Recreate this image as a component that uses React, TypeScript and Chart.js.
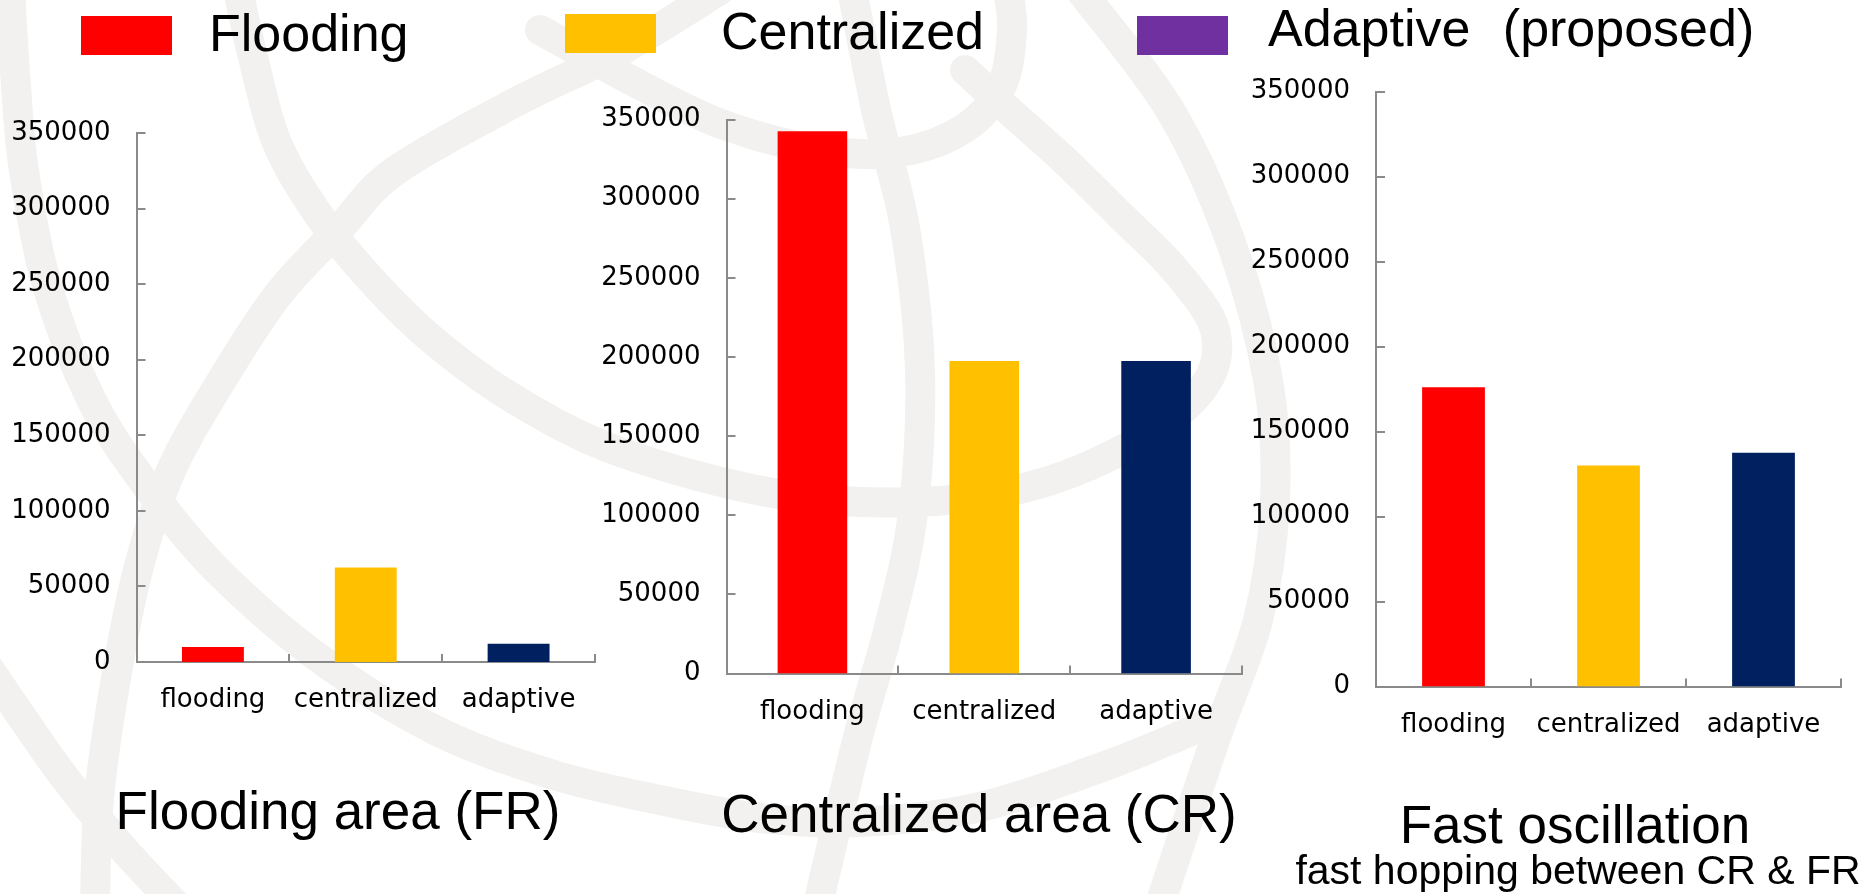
import React, { useEffect, useRef } from "react";
import { Chart, registerables } from "chart.js";

Chart.register(...registerables);

// ---- data ----
const categories = ["flooding", "centralized", "adaptive"];
const floodingAreaValues = [10000, 62500, 12000];
const centralizedAreaValues = [342500, 197500, 197500];
const fastOscillationValues = [176000, 130000, 137500];
const yMax = 350000;
const yStep = 50000;
const barColors = ["#ff0000", "#ffc000", "#002060"];
const legendLabels = ["Flooding", "Centralized", "Adaptive (proposed)"];
const legendColors = ["#ff0000", "#ffc000", "#7030a0"];
const panelTitles = ["Flooding area (FR)", "Centralized area (CR)", "Fast oscillation"];
const panelSubtitle = "fast hopping between CR & FR";

// ---- layout ----
const W = 1870;
const H = 894;
const Y_W = 130;
const X_H = 60;
const AXIS = "#8a8a8a";
const TICK_FONT = "'DejaVu Sans', Verdana, sans-serif";
const TEXT_FONT = "'Liberation Sans', Arial, sans-serif";
const WATERMARK = "#f2f1ef";

type Area = { left: number; top: number; right: number; bottom: number };
const areas: Area[] = [
  { left: 136.5, top: 133, right: 595, bottom: 662 },
  { left: 726.5, top: 119.5, right: 1242, bottom: 673.5 },
  { left: 1376, top: 91.5, right: 1841, bottom: 686.5 },
];

// decorative background watermark (globe-like arcs), not data
const watermarkCurves: number[][][] = [
  [[238, -10], [253, 57], [277, 143], [320, 217], [376, 285], [435, 342], [514, 399], [620, 452], [778, 494], [917, 502], [1035, 485], [1140, 440], [1205, 385], [1215, 330], [1175, 270], [1120, 215], [1062, 158], [1006, 108], [965, 70]],
  [[1080, -10], [1170, 110], [1230, 240], [1268, 380], [1275, 500], [1258, 620], [1215, 740], [1160, 904]],
  [[720, -10], [620, 51], [514, 103], [395, 171], [340, 228], [277, 296], [217, 388], [170, 473], [138, 570], [115, 684], [99, 798], [95, 904]],
  [[540, 30], [640, 85], [724, 125], [820, 150], [900, 152], [965, 128], [1002, 85], [1012, 30], [1008, -10]],
  [[852, -10], [877, 114], [905, 228], [920, 370], [913, 513], [889, 627], [857, 741], [818, 904]],
  [[10, -10], [16, 86], [24, 171], [47, 285], [91, 399], [146, 485], [217, 570], [316, 656], [435, 730], [554, 775], [660, 800], [760, 818], [857, 822], [976, 808], [1094, 770], [1170, 740], [1215, 720]],
  [[-10, 670], [59, 770], [119, 844], [175, 904]],
];

function smoothPath(pts: number[][]): string {
  let d = `M${pts[0][0]},${pts[0][1]}`;
  for (let i = 0; i < pts.length - 1; i++) {
    const p0 = pts[i - 1] || pts[i];
    const p1 = pts[i];
    const p2 = pts[i + 1];
    const p3 = pts[i + 2] || p2;
    const c1x = p1[0] + (p2[0] - p0[0]) / 6;
    const c1y = p1[1] + (p2[1] - p0[1]) / 6;
    const c2x = p2[0] - (p3[0] - p1[0]) / 6;
    const c2y = p2[1] - (p3[1] - p1[1]) / 6;
    d += ` C${c1x},${c1y} ${c2x},${c2y} ${p2[0]},${p2[1]}`;
  }
  return d;
}

const innerTicks = {
  id: "innerTicks",
  afterDraw(chart: any) {
    const { ctx, chartArea, scales } = chart;
    const xs = scales.x;
    const ys = scales.y;
    ctx.save();
    ctx.strokeStyle = AXIS;
    ctx.lineWidth = 2;
    ctx.beginPath();
    ys.ticks.forEach((t: any) => {
      const py = Math.round(ys.getPixelForValue(t.value));
      ctx.moveTo(chartArea.left, py);
      ctx.lineTo(chartArea.left + 9, py);
    });
    for (let i = 0; i <= categories.length; i++) {
      const px = Math.round(xs.getPixelForValue(i - 0.5));
      ctx.moveTo(px, chartArea.bottom);
      ctx.lineTo(px, chartArea.bottom - 8);
    }
    ctx.stroke();
    ctx.restore();
  },
};

function BarPanel({ values, area }: { values: number[]; area: Area }) {
  const ref = useRef<HTMLCanvasElement>(null);
  useEffect(() => {
    const chart = new Chart(ref.current as HTMLCanvasElement, {
      type: "bar",
      data: {
        labels: categories,
        datasets: [
          {
            data: values,
            backgroundColor: barColors,
            borderWidth: 0,
            barPercentage: 0.405,
            categoryPercentage: 1,
          },
        ],
      },
      options: {
        animation: false,
        responsive: false,
        devicePixelRatio: 1,
        layout: {
          padding: {
            left: area.left - Y_W,
            top: area.top,
            right: W - area.right,
            bottom: H - area.bottom - X_H,
          },
        },
        plugins: { legend: { display: false }, tooltip: { enabled: false } },
        scales: {
          x: {
            z: 1,
            grid: { display: false, drawTicks: false },
            border: { display: true, color: AXIS, width: 2 },
            ticks: {
              color: "#000",
              font: { family: TICK_FONT, size: 26 },
              padding: 23,
              maxRotation: 0,
            },
            afterFit: (s: any) => {
              s.height = X_H;
            },
          },
          y: {
            z: 1,
            min: 0,
            max: yMax,
            grid: { display: false, drawTicks: false },
            border: { display: true, color: AXIS, width: 2 },
            ticks: {
              stepSize: yStep,
              color: "#000",
              font: { family: TICK_FONT, size: 26 },
              padding: 26,
              callback: (v: any) => String(v),
            },
            afterFit: (s: any) => {
              s.width = Y_W;
            },
          },
        },
      } as any,
      plugins: [innerTicks],
    });
    return () => chart.destroy();
  }, []);
  return (
    <canvas
      ref={ref}
      width={W}
      height={H}
      style={{ position: "absolute", left: 0, top: 0 }}
    />
  );
}

const textStyle = (size: number): React.CSSProperties => ({
  position: "absolute",
  fontFamily: TEXT_FONT,
  fontSize: size,
  lineHeight: `${size}px`,
  color: "#000",
  whiteSpace: "nowrap",
});

export default function App() {
  const legendSwatches = [
    { left: 81, top: 16, text: 209, textTop: 7, ws: 0 },
    { left: 565, top: 14, text: 721, textTop: 5, ws: 0 },
    { left: 1137, top: 16, text: 1268, textTop: 2, ws: 18 },
  ];
  const titlePos = [
    { cx: 338, top: 784, size: 53 },
    { cx: 979, top: 787, size: 53 },
    { cx: 1575, top: 798, size: 53 },
  ];
  return (
    <div
      style={{
        position: "absolute",
        left: 0,
        top: 0,
        width: W,
        height: H,
        background: "#fff",
        overflow: "hidden",
      }}
    >
      <svg
        width={W}
        height={H}
        style={{ position: "absolute", left: 0, top: 0 }}
      >
        {watermarkCurves.map((pts, i) => (
          <path
            key={i}
            d={smoothPath(pts)}
            fill="none"
            stroke={WATERMARK}
            strokeWidth={30}
            strokeLinecap="round"
          />
        ))}
      </svg>
      <BarPanel values={floodingAreaValues} area={areas[0]} />
      <BarPanel values={centralizedAreaValues} area={areas[1]} />
      <BarPanel values={fastOscillationValues} area={areas[2]} />
      {legendLabels.map((label, i) => (
        <React.Fragment key={label}>
          <div
            style={{
              position: "absolute",
              left: legendSwatches[i].left,
              top: legendSwatches[i].top,
              width: 91,
              height: 39,
              background: legendColors[i],
            }}
          />
          <div
            style={{
              ...textStyle(52),
              left: legendSwatches[i].text,
              top: legendSwatches[i].textTop,
              wordSpacing: legendSwatches[i].ws,
            }}
          >
            {label}
          </div>
        </React.Fragment>
      ))}
      {panelTitles.map((t, i) => (
        <div
          key={t}
          style={{
            ...textStyle(titlePos[i].size),
            left: titlePos[i].cx,
            top: titlePos[i].top,
            transform: "translateX(-50%)",
          }}
        >
          {t}
        </div>
      ))}
      <div style={{ ...textStyle(41), left: 1578, top: 850, transform: "translateX(-50%)" }}>
        {panelSubtitle}
      </div>
    </div>
  );
}
